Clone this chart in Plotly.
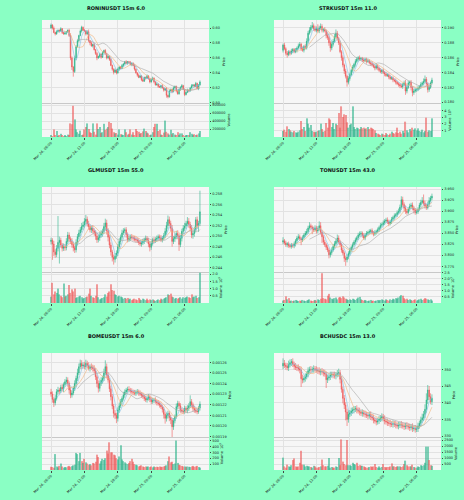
import plotly.graph_objects as go
import pandas as pd

# ---------------- shared x labels ----------------
TICK_IDX = [0, 24, 48, 72, 96]
TICK_TEXT = ["Mar 24, 06:00", "Mar 24, 12:00", "Mar 24, 18:00", "Mar 25, 00:00", "Mar 25, 06:00"]

TITLES = ["RONINUSDT 15m 6.0", "STRKUSDT 15m 11.0", "GLMUSDT 15m 55.0",
          "TONUSDT 15m 43.0", "BOMEUSDT 15m 6.0", "BCHUSDC 15m 13.0"]

# ---------------- RONINUSDT (price unit 0.001, volume unit 1000) ----------------
ronin_open0 = 600
ronin_close = [
    604, 600, 594, 592, 595, 597, 596, 599, 594, 592, 593, 595,
    597, 590, 560, 548, 542, 560, 575, 583, 590, 596, 601, 597,
    596, 592, 595, 583, 580, 576, 578, 571, 566, 560, 562, 565,
    561, 567, 570, 566, 560, 562, 558, 550, 545, 541, 544, 540,
    545, 548, 546, 550, 552, 555, 553, 555, 554, 551, 553, 550,
    545, 540, 537, 534, 536, 531, 529, 534, 533, 536, 532, 528,
    531, 533, 528, 524, 525, 522, 521, 523, 520, 517, 519, 510,
    508, 516, 518, 515, 520, 522, 516, 512, 518, 521, 523, 518,
    511, 514, 517, 516, 520, 523, 524, 522, 526, 519, 524, 528]
ronin_wick_up = [
    2, 1, 2, 1, 2, 1, 1, 2, 1, 1, 2, 1,
    1, 2, 3, 2, 1, 3, 2, 2, 1, 2, 2, 1,
    2, 1, 2, 3, 1, 2, 1, 2, 1, 2, 1, 2,
    1, 2, 1, 2, 1, 2, 1, 2, 1, 1, 2, 1,
    2, 1, 1, 2, 1, 1, 2, 1, 1, 2, 1, 1,
    2, 1, 1, 2, 1, 1, 2, 1, 1, 2, 1, 1,
    1, 2, 1, 1, 2, 1, 1, 1, 2, 1, 1, 2,
    1, 2, 1, 1, 2, 1, 1, 2, 1, 1, 2, 1,
    1, 1, 2, 1, 1, 2, 1, 1, 2, 1, 1, 2]
ronin_wick_dn = [
    1, 2, 1, 2, 1, 1, 2, 1, 2, 1, 1, 2,
    1, 2, 3, 4, 7, 2, 3, 1, 2, 1, 2, 1,
    1, 2, 1, 2, 3, 1, 2, 1, 2, 3, 1, 2,
    2, 1, 1, 2, 2, 1, 2, 1, 2, 3, 1, 2,
    1, 2, 1, 1, 2, 1, 1, 2, 1, 1, 2, 1,
    2, 1, 2, 1, 1, 2, 1, 1, 2, 1, 1, 2,
    1, 1, 2, 1, 1, 2, 1, 2, 1, 2, 1, 3,
    2, 1, 1, 2, 1, 1, 2, 1, 1, 2, 1, 1,
    2, 1, 1, 2, 1, 1, 2, 1, 1, 1, 2, 1]
ronin_vol = [
    30, 20, 190, 40, 150, 20, 30, 80, 40, 20, 30, 20,
    60, 40, 340, 320, 780, 440, 190, 120, 80, 160, 40, 60,
    190, 250, 340, 200, 120, 100, 340, 130, 60, 340, 200, 250,
    100, 120, 330, 180, 210, 250, 380, 350, 210, 120, 90, 100,
    60, 190, 70, 60, 40, 190, 120, 60, 80, 190, 60, 120,
    50, 200, 150, 130, 80, 100, 140, 210, 150, 110, 90, 40,
    60, 120, 250, 330, 330, 150, 180, 60, 40, 110, 410, 130,
    90, 60, 180, 70, 100, 60, 40, 120, 50, 90, 90, 30,
    20, 40, 30, 40, 120, 80, 30, 70, 50, 60, 90, 150]

# ---------------- STRKUSDT (price unit 0.0001, volume unit 1e4) ----------------
strk_open0 = 1870
strk_close = [
    1877, 1872, 1866, 1864, 1868, 1866, 1869, 1871, 1868, 1870, 1873, 1876,
    1878, 1872, 1870, 1875, 1873, 1882, 1893, 1897, 1901, 1903, 1899, 1897,
    1899, 1896, 1900, 1902, 1897, 1898, 1896, 1890, 1887, 1880, 1873, 1878,
    1882, 1888, 1893, 1886, 1880, 1868, 1860, 1850, 1842, 1835, 1827, 1832,
    1837, 1843, 1847, 1851, 1855, 1858, 1860, 1858, 1859, 1857, 1856, 1858,
    1855, 1856, 1853, 1852, 1850, 1848, 1846, 1849, 1846, 1843, 1841, 1843,
    1840, 1838, 1836, 1837, 1834, 1832, 1833, 1830, 1829, 1827, 1825, 1824,
    1822, 1821, 1824, 1826, 1815, 1820, 1826, 1827, 1820, 1813, 1815, 1817,
    1817, 1819, 1821, 1824, 1826, 1828, 1831, 1825, 1817, 1820, 1826, 1830]
strk_wick_up = [
    2, 3, 2, 3, 2, 2, 3, 2, 2, 3, 2, 3,
    3, 2, 3, 2, 3, 4, 3, 4, 3, 5, 3, 4,
    3, 6, 3, 4, 3, 2, 3, 2, 4, 3, 3, 4,
    3, 4, 5, 3, 2, 3, 2, 3, 2, 3, 2, 3,
    3, 2, 3, 2, 3, 3, 2, 3, 2, 2, 3, 2,
    2, 3, 2, 2, 3, 2, 2, 3, 2, 2, 3, 2,
    2, 2, 3, 2, 2, 3, 2, 2, 2, 3, 2, 2,
    2, 3, 2, 3, 4, 3, 3, 2, 3, 2, 3, 2,
    2, 3, 2, 3, 2, 4, 5, 3, 2, 3, 2, 3]
strk_wick_dn = [
    3, 2, 3, 4, 2, 3, 2, 3, 2, 2, 3, 2,
    2, 3, 2, 3, 2, 2, 3, 2, 3, 2, 3, 2,
    3, 2, 3, 2, 3, 3, 2, 4, 3, 4, 5, 3,
    3, 2, 2, 3, 3, 2, 4, 3, 4, 3, 6, 3,
    3, 2, 3, 2, 3, 2, 3, 2, 2, 3, 2, 2,
    3, 2, 2, 3, 2, 2, 3, 2, 3, 2, 2, 3,
    2, 3, 2, 2, 3, 2, 2, 3, 2, 3, 2, 3,
    3, 2, 3, 2, 5, 3, 2, 3, 4, 5, 3, 2,
    3, 2, 2, 3, 2, 3, 2, 3, 4, 3, 2, 2]
strk_vol = [
    9, 11, 8, 16, 12, 10, 8, 7, 9, 7, 6, 8,
    10, 24, 12, 15, 9, 28, 20, 14, 18, 9, 8, 7,
    8, 9, 10, 20, 12, 8, 9, 21, 14, 28, 26, 15,
    21, 12, 20, 18, 36, 14, 46, 30, 34, 33, 22, 14,
    18, 20, 46, 15, 12, 14, 13, 12, 15, 13, 14, 12,
    13, 15, 12, 14, 13, 12, 10, 6, 5, 4, 3, 5,
    4, 3, 6, 4, 3, 5, 8, 6, 5, 7, 14, 6,
    8, 5, 9, 6, 23, 10, 7, 12, 9, 14, 11, 13,
    10, 13, 9, 8, 11, 7, 9, 29, 8, 10, 9, 28]

# ---------------- GLMUSDT (price unit 0.0001, volume unit 1e4) ----------------
glm_open0 = 2490
glm_close = [
    2492, 2485, 2470, 2465, 2477, 2488, 2492, 2483, 2477, 2480, 2478, 2490,
    2502, 2495, 2490, 2484, 2478, 2474, 2488, 2499, 2506, 2512, 2518, 2521,
    2528, 2532, 2523, 2518, 2512, 2515, 2510, 2507, 2500, 2493, 2497, 2502,
    2505, 2509, 2518, 2525, 2510, 2498, 2483, 2470, 2460, 2456, 2462, 2468,
    2480, 2490, 2498, 2506, 2510, 2512, 2503, 2493, 2496, 2499, 2497, 2496,
    2494, 2493, 2491, 2488, 2485, 2487, 2490, 2493, 2496, 2492, 2485, 2479,
    2486, 2493, 2491, 2494, 2496, 2499, 2497, 2493, 2496, 2501, 2509, 2520,
    2531, 2524, 2515, 2490, 2495, 2499, 2505, 2500, 2484, 2496, 2509, 2515,
    2519, 2524, 2528, 2522, 2515, 2502, 2505, 2512, 2531, 2520, 2524, 2546]
glm_wick_up = [
    5, 4, 6, 5, 6, 50, 7, 5, 4, 6, 5, 6,
    6, 5, 4, 6, 5, 4, 6, 5, 6, 5, 7, 6,
    6, 8, 5, 6, 4, 5, 6, 5, 4, 5, 6, 5,
    6, 5, 7, 8, 6, 5, 4, 5, 4, 5, 6, 5,
    5, 6, 5, 6, 5, 4, 5, 4, 5, 4, 5, 4,
    4, 5, 4, 5, 4, 4, 5, 4, 5, 4, 5, 4,
    5, 4, 5, 4, 5, 4, 4, 5, 4, 5, 6, 7,
    8, 6, 5, 6, 5, 6, 5, 6, 5, 6, 5, 6,
    6, 5, 8, 6, 5, 6, 5, 6, 5, 6, 5, 40]
glm_wick_dn = [
    6, 30, 8, 6, 5, 6, 40, 5, 6, 5, 6, 5,
    5, 6, 5, 6, 7, 6, 5, 6, 5, 6, 5, 6,
    5, 6, 5, 6, 5, 6, 5, 6, 7, 6, 5, 6,
    5, 6, 5, 6, 7, 8, 6, 7, 8, 10, 6, 5,
    6, 5, 6, 5, 4, 5, 6, 5, 4, 5, 4, 5,
    4, 5, 4, 5, 4, 5, 4, 5, 4, 5, 6, 8,
    5, 4, 5, 4, 5, 4, 5, 4, 5, 4, 5, 6,
    6, 5, 6, 10, 5, 6, 5, 6, 12, 5, 6, 5,
    5, 6, 5, 6, 5, 6, 7, 6, 5, 6, 12, 5]
glm_vol = [
    44, 140, 60, 80, 70, 100, 60, 50, 40, 135, 45, 50,
    60, 125, 70, 95, 80, 100, 35, 40, 45, 50, 40, 30,
    35, 40, 45, 65, 100, 50, 40, 35, 50, 130, 40, 25,
    30, 35, 40, 60, 45, 70, 80, 130, 90, 85, 60, 55,
    45, 50, 45, 40, 30, 35, 30, 35, 25, 30, 20, 25,
    30, 25, 20, 35, 25, 20, 30, 25, 20, 30, 20, 25,
    20, 25, 20, 15, 20, 25, 20, 30, 25, 30, 35, 40,
    60, 55, 65, 45, 40, 30, 35, 30, 35, 40, 30, 40,
    35, 40, 45, 40, 35, 60, 40, 45, 50, 35, 40, 210]

# ---------------- TONUSDT (price unit 0.001, volume unit 1e3) ----------------
ton_open0 = 3830
ton_close = [
    3833, 3828, 3824, 3826, 3822, 3820, 3823, 3821, 3826, 3833, 3839, 3842,
    3838, 3835, 3840, 3846, 3850, 3854, 3862, 3867, 3864, 3860, 3858, 3862,
    3855, 3860, 3867, 3852, 3842, 3830, 3824, 3818, 3812, 3801, 3806, 3812,
    3820, 3826, 3832, 3839, 3830, 3824, 3812, 3805, 3793, 3790, 3796, 3804,
    3812, 3818, 3824, 3830, 3835, 3840, 3846, 3848, 3850, 3845, 3839, 3846,
    3850, 3852, 3854, 3856, 3851, 3848, 3852, 3854, 3858, 3863, 3868, 3870,
    3874, 3878, 3880, 3876, 3872, 3876, 3882, 3886, 3890, 3892, 3897, 3900,
    3909, 3926, 3915, 3907, 3900, 3897, 3905, 3911, 3914, 3907, 3903, 3897,
    3899, 3905, 3914, 3920, 3924, 3918, 3912, 3908, 3916, 3924, 3930, 3934]
ton_wick_up = [
    8, 4, 5, 4, 5, 4, 5, 4, 5, 4, 5, 6,
    5, 4, 5, 4, 5, 6, 5, 8, 5, 4, 5, 6,
    5, 6, 10, 8, 5, 4, 5, 4, 5, 4, 5, 6,
    5, 6, 5, 8, 6, 5, 4, 5, 4, 5, 6, 5,
    5, 4, 5, 4, 5, 4, 5, 6, 5, 4, 5, 4,
    5, 4, 5, 4, 5, 4, 5, 4, 5, 4, 5, 4,
    5, 4, 5, 6, 5, 4, 5, 4, 5, 4, 5, 6,
    6, 8, 7, 5, 6, 5, 4, 6, 5, 6, 5, 4,
    5, 4, 5, 6, 8, 14, 6, 5, 6, 8, 5, 6]
ton_wick_dn = [
    5, 4, 5, 6, 5, 4, 5, 4, 5, 6, 5, 4,
    5, 12, 5, 4, 5, 4, 5, 4, 5, 12, 5, 4,
    6, 5, 4, 5, 14, 6, 5, 6, 5, 8, 6, 5,
    4, 5, 4, 5, 4, 5, 6, 5, 8, 14, 6, 5,
    5, 4, 5, 4, 5, 4, 5, 4, 6, 5, 4, 5,
    4, 5, 4, 5, 4, 5, 4, 5, 4, 5, 4, 5,
    4, 5, 4, 5, 6, 4, 5, 4, 5, 4, 5, 4,
    5, 6, 5, 8, 6, 5, 4, 5, 6, 5, 8, 5,
    4, 5, 4, 5, 4, 5, 6, 5, 4, 5, 4, 5]
ton_vol = [
    20, 25, 55, 30, 40, 15, 20, 15, 20, 25, 20, 15,
    20, 15, 25, 20, 15, 20, 25, 30, 20, 15, 20, 25,
    20, 30, 25, 35, 245, 40, 35, 30, 60, 75, 45, 35,
    30, 40, 45, 30, 45, 50, 40, 55, 45, 35, 30, 25,
    30, 25, 35, 30, 25, 35, 45, 50, 30, 25, 20, 25,
    20, 15, 20, 25, 15, 20, 15, 20, 25, 20, 25, 30,
    25, 20, 30, 25, 20, 30, 25, 35, 30, 40, 35, 45,
    55, 65, 60, 40, 30, 35, 25, 30, 25, 20, 25, 30,
    20, 25, 30, 35, 25, 30, 40, 35, 30, 25, 30, 20]

# ---------------- BOMEUSDT (price unit 1e-7, volume unit 1e6) ----------------
bome_open0 = 12320
bome_close = [
    12301, 12250, 12219, 12260, 12323, 12339, 12330, 12364, 12350, 12390, 12417, 12433,
    12400, 12339, 12292, 12310, 12355, 12400, 12449, 12500, 12559, 12590, 12565, 12575,
    12560, 12590, 12570, 12543, 12560, 12553, 12543, 12520, 12464, 12400, 12355, 12402,
    12430, 12449, 12500, 12559, 12480, 12433, 12350, 12276, 12188, 12119, 12100, 12072,
    12150, 12190, 12229, 12260, 12292, 12320, 12339, 12345, 12339, 12330, 12323, 12315,
    12308, 12320, 12323, 12310, 12301, 12290, 12276, 12260, 12245, 12260, 12276, 12250,
    12229, 12240, 12245, 12230, 12219, 12210, 12198, 12180, 12157, 12110, 12072, 12100,
    12119, 12080, 12057, 11993, 12050, 12088, 12182, 12213, 12190, 12150, 12140, 12135,
    12166, 12150, 12166, 12190, 12229, 12200, 12166, 12150, 12140, 12135, 12170, 12207]
bome_wick_up = [
    30, 25, 20, 30, 25, 30, 20, 25, 30, 20, 25, 30,
    25, 20, 30, 25, 20, 30, 25, 40, 30, 35, 30, 25,
    30, 35, 25, 30, 20, 30, 25, 30, 25, 20, 30, 25,
    30, 25, 40, 60, 30, 25, 20, 30, 25, 20, 30, 25,
    25, 30, 25, 20, 30, 25, 20, 25, 30, 20, 25, 20,
    25, 20, 25, 20, 25, 20, 25, 20, 25, 20, 25, 20,
    20, 25, 20, 25, 20, 25, 20, 25, 20, 25, 20, 25,
    25, 20, 25, 20, 25, 20, 30, 25, 20, 25, 20, 25,
    25, 20, 30, 25, 60, 25, 20, 25, 20, 25, 20, 25]
bome_wick_dn = [
    25, 30, 40, 25, 20, 25, 30, 20, 25, 30, 20, 25,
    30, 35, 30, 25, 20, 25, 30, 25, 20, 25, 30, 25,
    25, 30, 25, 20, 30, 25, 30, 25, 30, 35, 40, 30,
    25, 30, 25, 20, 30, 25, 30, 35, 30, 40, 35, 45,
    30, 25, 20, 25, 20, 25, 20, 25, 20, 25, 20, 25,
    20, 25, 20, 25, 20, 25, 20, 25, 20, 25, 20, 25,
    25, 20, 25, 20, 25, 20, 25, 20, 30, 40, 50, 30,
    30, 35, 40, 120, 30, 25, 20, 25, 30, 25, 20, 25,
    20, 25, 30, 25, 20, 25, 30, 25, 20, 25, 20, 25]
bome_vol = [
    55, 50, 40, 270, 60, 45, 70, 110, 60, 40, 50, 45,
    60, 70, 55, 65, 80, 90, 290, 270, 150, 290, 150, 120,
    190, 130, 110, 90, 100, 80, 120, 110, 140, 260, 220, 110,
    150, 190, 170, 200, 330, 280, 470, 300, 300, 260, 250, 200,
    180, 230, 420, 180, 150, 130, 110, 100, 120, 150, 190, 140,
    100, 90, 80, 60, 70, 80, 60, 50, 60, 55, 60, 50,
    60, 45, 60, 50, 55, 50, 60, 50, 55, 60, 70, 80,
    150, 230, 130, 140, 100, 110, 500, 120, 90, 80, 70, 60,
    60, 50, 60, 55, 50, 60, 70, 55, 60, 70, 50, 40]

# ---------------- BCHUSDC (price unit 0.1, volume unit 1) ----------------
bch_open0 = 3510
bch_close = [
    3518, 3512, 3509, 3505, 3514, 3520, 3523, 3515, 3509, 3506, 3505, 3502,
    3498, 3472, 3468, 3473, 3478, 3486, 3496, 3500, 3498, 3500, 3502, 3499,
    3498, 3496, 3492, 3494, 3492, 3489, 3486, 3469, 3474, 3478, 3483, 3485,
    3483, 3480, 3484, 3488, 3490, 3470, 3440, 3413, 3393, 3372, 3350, 3365,
    3370, 3375, 3378, 3380, 3382, 3378, 3375, 3372, 3368, 3370, 3366, 3365,
    3362, 3360, 3364, 3358, 3354, 3348, 3345, 3342, 3346, 3350, 3354, 3358,
    3352, 3345, 3342, 3340, 3338, 3336, 3335, 3337, 3335, 3333, 3330, 3332,
    3335, 3333, 3330, 3328, 3332, 3330, 3327, 3325, 3328, 3322, 3323, 3320,
    3322, 3330, 3338, 3348, 3355, 3365, 3380, 3408, 3438, 3418, 3403, 3413]
bch_wick_up = [
    15, 10, 8, 10, 12, 10, 8, 10, 8, 10, 8, 10,
    8, 10, 12, 8, 10, 8, 10, 8, 10, 8, 10, 8,
    10, 8, 10, 8, 10, 8, 10, 8, 10, 8, 10, 8,
    8, 10, 8, 10, 12, 8, 10, 8, 10, 8, 10, 12,
    8, 10, 8, 10, 8, 10, 8, 10, 8, 10, 8, 10,
    8, 10, 8, 10, 8, 10, 8, 10, 8, 10, 8, 10,
    8, 10, 8, 10, 8, 10, 8, 10, 8, 10, 8, 10,
    8, 10, 8, 10, 8, 10, 8, 10, 8, 10, 8, 10,
    8, 10, 8, 10, 12, 10, 15, 20, 15, 12, 10, 12]
bch_wick_dn = [
    10, 8, 10, 8, 10, 8, 10, 8, 10, 8, 10, 8,
    10, 25, 10, 8, 10, 8, 10, 8, 10, 8, 10, 8,
    8, 10, 8, 10, 8, 10, 8, 25, 10, 8, 10, 8,
    10, 8, 10, 8, 10, 12, 10, 15, 12, 25, 20, 10,
    8, 10, 8, 10, 8, 10, 8, 10, 8, 10, 8, 10,
    8, 10, 8, 10, 8, 10, 8, 10, 8, 10, 8, 10,
    8, 10, 8, 10, 8, 10, 8, 10, 8, 10, 8, 10,
    8, 10, 8, 10, 8, 10, 8, 10, 8, 10, 8, 10,
    8, 10, 8, 10, 8, 10, 12, 10, 12, 10, 8, 10]
bch_vol = [
    1030, 300, 200, 450, 300, 250, 400, 830, 970, 300, 250, 300,
    600, 1600, 450, 450, 300, 350, 300, 300, 250, 200, 350, 300,
    200, 200, 250, 300, 870, 400, 300, 300, 350, 1000, 200, 250,
    200, 200, 300, 250, 1000, 400, 2550, 700, 500, 400, 2500, 400,
    400, 350, 600, 500, 450, 600, 350, 400, 350, 350, 300, 250,
    200, 200, 250, 300, 250, 300, 500, 250, 200, 300, 200, 250,
    500, 250, 200, 250, 250, 300, 550, 300, 300, 250, 300, 300,
    300, 250, 300, 500, 780, 400, 300, 300, 300, 450, 250, 200,
    200, 300, 250, 400, 350, 400, 600, 1950, 1950, 830, 400, 350]

# ---------------- panel configuration ----------------
PANELS = [
    dict(open0=ronin_open0, close=ronin_close, wu=ronin_wick_up, wd=ronin_wick_dn, vol=ronin_vol,
         pscale=0.001, vscale=1000, prange=[0.4998, 0.6107], pticks=[0.50, 0.52, 0.54, 0.56, 0.58, 0.60], pfmt="{:.2f}",
         vrange=[0, 850000], vticks=[200000, 400000, 600000, 800000], vtext=["200000", "400000", "600000", "800000"],
         vtitle="Volume"),
    dict(open0=strk_open0, close=strk_close, wu=strk_wick_up, wd=strk_wick_dn, vol=strk_vol,
         pscale=0.0001, vscale=1e4, prange=[0.1799, 0.19107], pticks=[0.180, 0.182, 0.184, 0.186, 0.188, 0.190], pfmt="{:.3f}",
         vrange=[0, 5.1e5], vticks=[1e5, 2e5, 3e5, 4e5], vtext=["1", "2", "3", "4"],
         vtitle="Volume  10<sup>5</sup>"),
    dict(open0=glm_open0, close=glm_close, wu=glm_wick_up, wd=glm_wick_dn, vol=glm_vol,
         pscale=0.0001, vscale=1e4, prange=[0.2432, 0.2593], pticks=[0.244, 0.246, 0.248, 0.250, 0.252, 0.254, 0.256, 0.258], pfmt="{:.3f}",
         vrange=[0, 2.15e6], vticks=[0.5e6, 1.0e6, 1.5e6, 2.0e6], vtext=["0.5", "1.0", "1.5", "2.0"],
         vtitle="Volume  10<sup>6</sup>"),
    dict(open0=ton_open0, close=ton_close, wu=ton_wick_up, wd=ton_wick_dn, vol=ton_vol,
         pscale=0.001, vscale=1e3, prange=[3.762, 3.955], pticks=[3.775, 3.800, 3.825, 3.850, 3.875, 3.900, 3.925, 3.950], pfmt="{:.3f}",
         vrange=[0, 2.55e5], vticks=[0.5e5, 1.0e5, 1.5e5, 2.0e5, 2.5e5], vtext=["0.5", "1.0", "1.5", "2.0", "2.5"],
         vtitle="Volume  10<sup>5</sup>"),
    dict(open0=bome_open0, close=bome_close, wu=bome_wick_up, wd=bome_wick_dn, vol=bome_vol,
         pscale=1e-7, vscale=1e6, prange=[0.0011896, 0.0012688], pticks=[0.00119, 0.00120, 0.00121, 0.00122, 0.00123, 0.00124, 0.00125, 0.00126], pfmt="{:.5f}",
         vrange=[0, 5.6e8], vticks=[1e8, 2e8, 3e8, 4e8, 5e8], vtext=["100", "200", "300", "400", "500"],
         vtitle="Volume  10<sup>6</sup>"),
    dict(open0=bch_open0, close=bch_close, wu=bch_wick_up, wd=bch_wick_dn, vol=bch_vol,
         pscale=0.1, vscale=1, prange=[329.7, 354.9], pticks=[330, 335, 340, 345, 350], pfmt="{:.0f}",
         vrange=[0, 2750], vticks=[500, 1000, 1500, 2000, 2500], vtext=["500", "1000", "1500", "2000", "2500"],
         vtitle="Volume"),
]

# ---------------- styling ----------------
BG = "#8AFFC4"
PLOT_BG = "#f6f6f6"
GRID = "#e2e2e2"
UP = "#2bb48a"
DN = "#ef5a5a"
MAV = [5, 10, 20]
MAV_COLORS = ["#7fc0e6", "#f2b47a", "#a8a8a8"]
FONT = "DejaVu Sans"
XDOM = [[0.0905, 0.4504], [0.5905, 0.9504]]
YDOM = [([0.794, 0.96], [0.726, 0.794]),
        ([0.456, 0.626], [0.394, 0.456]),
        ([0.126, 0.294], [0.06, 0.126])]
TITLE_Y = [0.984, 0.66, 0.328]
XR = [-6.5, 113.5]

fig = go.Figure()
layout = {}

for k, p in enumerate(PANELS):
    n1, n2 = 2 * k + 1, 2 * k + 2
    xa1 = "x" if n1 == 1 else f"x{n1}"
    ya1 = "y" if n1 == 1 else f"y{n1}"
    xa2, ya2 = f"x{n2}", f"y{n2}"
    s = p["pscale"]
    closes = [v * s for v in p["close"]]
    opens = [p["open0"] * s] + closes[:-1]
    highs = [max(o, c) + w * s for o, c, w in zip(opens, closes, p["wu"])]
    lows = [min(o, c) - w * s for o, c, w in zip(opens, closes, p["wd"])]
    vols = [v * p["vscale"] for v in p["vol"]]
    x = list(range(len(closes)))

    fig.add_trace(go.Candlestick(
        x=x, open=opens, high=highs, low=lows, close=closes,
        xaxis=xa1, yaxis=ya1, showlegend=False, whiskerwidth=0,
        increasing=dict(line=dict(color=UP, width=0.6), fillcolor=UP),
        decreasing=dict(line=dict(color=DN, width=0.6), fillcolor=DN)))
    ser = pd.Series(closes)
    for w, col in zip(MAV, MAV_COLORS):
        fig.add_trace(go.Scatter(x=x, y=ser.rolling(w).mean(), mode="lines",
                                 line=dict(color=col, width=0.6), xaxis=xa1, yaxis=ya1,
                                 showlegend=False, hoverinfo="skip"))
    colors = [UP if c >= o else DN for o, c in zip(opens, closes)]
    fig.add_trace(go.Bar(x=x, y=vols, marker=dict(color=colors, opacity=0.6, line=dict(width=0)),
                         width=0.8, xaxis=xa2, yaxis=ya2, showlegend=False))

    row, col = k // 2, k % 2
    pdom, vdom = YDOM[row]
    tf = dict(size=3.5, family=FONT, color="#222")
    layout["xaxis" if n1 == 1 else f"xaxis{n1}"] = dict(
        domain=XDOM[col], anchor=ya1, range=XR, tickvals=TICK_IDX, showticklabels=False,
        showgrid=True, gridcolor=GRID, gridwidth=0.5, zeroline=False, ticks="",
        rangeslider=dict(visible=False), showline=True, linecolor="#c8c8c8", linewidth=0.6,
        automargin=False)
    layout["yaxis" if n1 == 1 else f"yaxis{n1}"] = dict(
        domain=pdom, anchor=xa1, side="right", range=p["prange"], tickvals=p["pticks"],
        ticktext=[p["pfmt"].format(v) for v in p["pticks"]], tickfont=tf,
        title=dict(text="Price", font=tf, standoff=2), showgrid=True, gridcolor=GRID, gridwidth=0.5,
        zeroline=False, ticks="outside", ticklen=1.5, tickwidth=0.5, tickcolor="#444",
        automargin=False)
    layout[f"xaxis{n2}"] = dict(
        domain=XDOM[col], anchor=ya2, range=XR, tickvals=TICK_IDX, ticktext=TICK_TEXT,
        tickangle=-45, tickfont=tf, showgrid=True, gridcolor=GRID, gridwidth=0.5,
        zeroline=False, ticks="outside", ticklen=1.5, tickwidth=0.5, tickcolor="#444",
        automargin=False)
    layout[f"yaxis{n2}"] = dict(
        domain=vdom, anchor=xa2, side="right", range=p["vrange"], tickvals=p["vticks"],
        ticktext=p["vtext"], tickfont=tf, title=dict(text=p["vtitle"], font=tf, standoff=2),
        showgrid=True, gridcolor=GRID, gridwidth=0.5, zeroline=False,
        ticks="outside", ticklen=1.5, tickwidth=0.5, tickcolor="#444",
        automargin=False)

annotations = []
for k, t in enumerate(TITLES):
    annotations.append(dict(text=f"<b>{t}</b>", x=0.25 if k % 2 == 0 else 0.75, y=TITLE_Y[k // 2],
                            xref="paper", yref="paper", showarrow=False,
                            font=dict(size=5, family=FONT, color="#111"),
                            xanchor="center", yanchor="middle"))

fig.update_layout(**layout)
fig.update_layout(
    width=464, height=500, margin=dict(l=0, r=0, t=0, b=0, autoexpand=False),
    paper_bgcolor=BG, plot_bgcolor=PLOT_BG, bargap=0.2, hovermode=False,
    font=dict(family=FONT, size=4), annotations=annotations, showlegend=False)

fig.write_html("out.html", config={"displayModeBar": False},
               post_script="document.body.style.margin='0';document.body.style.padding='0';"
                           "document.body.style.background='" + BG + "';")
